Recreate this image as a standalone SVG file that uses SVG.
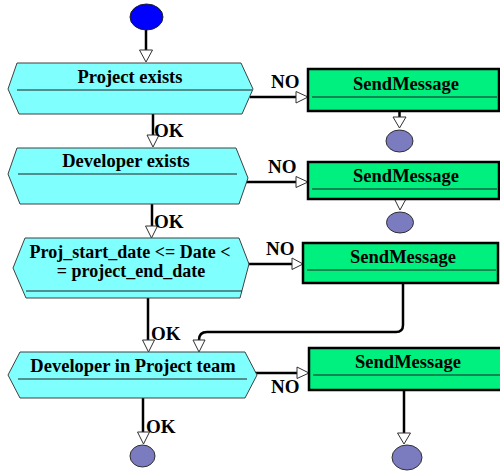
<svg xmlns="http://www.w3.org/2000/svg" width="500" height="472" viewBox="0 0 500 472">
  <defs>
    <style>
      .hex { fill: #80FFFF; stroke: #404040; stroke-width: 1; }
      .box { fill: #00F080; stroke: #000000; stroke-width: 2.5; }
      .sep { stroke: #202020; stroke-width: 1; fill: none; }
      .start { fill: #0000FF; stroke: #202020; stroke-width: 1; }
      .end { fill: #7B7BC0; stroke: #303030; stroke-width: 1; }
      .wire { stroke: #000000; stroke-width: 2.5; fill: none; }
      .head { fill: #FFFFFF; stroke: #303030; stroke-width: 1; }
      text { font-family: 'Liberation Serif', 'DejaVu Serif', serif; font-weight: bold; fill: #000000; }
      .title { font-size: 18.5px; text-anchor: middle; }
      .lbl { font-size: 19px; }
    </style>
  </defs>
  <rect width="500" height="472" fill="#FFFFFF"/>

  <!-- connectors -->
  <g id="connectors">
    <!-- start to first check -->
    <line class="wire" x1="146" y1="30" x2="146" y2="50"/>
    <polygon class="head" points="139.5,50 152.5,50 146,62"/>
    <!-- OK chain on the left -->
    <line class="wire" x1="153" y1="114" x2="153" y2="135"/>
    <polygon class="head" points="147,135 159,135 153,147"/>
    <text class="lbl" x="154" y="137">OK</text>

    <line class="wire" x1="152" y1="204" x2="152" y2="226"/>
    <polygon class="head" points="145.5,226 157.5,226 151.5,238"/>
    <text class="lbl" x="154" y="228">OK</text>

    <line class="wire" x1="148" y1="298" x2="148" y2="340"/>
    <polygon class="head" points="142.5,340 154.5,340 148.5,352"/>
    <text class="lbl" x="151" y="340">OK</text>

    <line class="wire" x1="143" y1="398" x2="143" y2="432"/>
    <polygon class="head" points="137.5,432 149.5,432 143.5,444"/>
    <text class="lbl" x="146" y="433">OK</text>

    <!-- NO branches to the right -->
    <line class="wire" x1="250" y1="97" x2="296" y2="97"/>
    <polygon class="head" points="296,91.5 296,103 308,97"/>
    <text class="lbl" x="271" y="88">NO</text>

    <line class="wire" x1="246" y1="182" x2="296" y2="182"/>
    <polygon class="head" points="296,176.5 296,187.5 308,182"/>
    <text class="lbl" x="268" y="173">NO</text>

    <line class="wire" x1="247" y1="264" x2="292" y2="264"/>
    <polygon class="head" points="292,258 292,269.5 303,264"/>
    <text class="lbl" x="266" y="255">NO</text>

    <line class="wire" x1="254" y1="373" x2="297" y2="373"/>
    <polygon class="head" points="297,367 297,378.5 309,373"/>
    <text class="lbl" x="271" y="393">NO</text>

    <!-- message outputs -->
    <line class="wire" x1="399.5" y1="111" x2="399.5" y2="117"/>
    <polygon class="head" points="393,117 406,117 399.5,128"/>

    <polygon class="head" points="394.5,199 406,199 400,210"/>

    <path class="wire" d="M403,283 V325 Q403,332 396,332 H207 Q199,332 199,340"/>
    <polygon class="head" points="193,340 205,340 199,352"/>

    <line class="wire" x1="404" y1="390" x2="404" y2="433"/>
    <polygon class="head" points="397.5,433 410.5,433 404,444"/>
  </g>

  <!-- start -->
  <g id="start">
    <ellipse class="start" cx="146.5" cy="17" rx="16.5" ry="13"/>
  </g>

  <!-- decision nodes -->
  <g id="project-exists">
    <polygon class="hex" points="17,63 241,63 253,89 242,114 19,114 8,89"/>
    <line class="sep" x1="17" y1="90" x2="252" y2="90"/>
    <text class="title" x="130" y="83">Project exists</text>
  </g>

  <g id="developer-exists">
    <polygon class="hex" points="17,148 236,148 248,178 239,204 20,204 8,174"/>
    <line class="sep" x1="18" y1="174" x2="237" y2="174"/>
    <text class="title" x="126" y="167">Developer exists</text>
  </g>

  <g id="date-range">
    <polygon class="hex" points="25,238 239,238 249,264 240,298 26,298 13,268"/>
    <line class="sep" x1="26" y1="291" x2="242" y2="291"/>
    <text class="title" x="130" y="258" style="font-size:18px">Proj_start_date &lt;= Date &lt;</text>
    <text class="title" x="131" y="277" style="font-size:18px">= project_end_date</text>
  </g>

  <g id="developer-in-team">
    <polygon class="hex" points="20,352 245,352 257,375 245,398 20,398 8,375"/>
    <line class="sep" x1="18" y1="379" x2="247" y2="379"/>
    <text class="title" x="133" y="372">Developer in Project team</text>
  </g>

  <!-- message actions -->
  <g id="send-message-1">
    <rect class="box" x="308" y="69" width="191" height="42"/>
    <line class="sep" x1="312" y1="97" x2="497" y2="97"/>
    <text class="title" x="406" y="90">SendMessage</text>
  </g>

  <g id="send-message-2">
    <rect class="box" x="308" y="162" width="191" height="37"/>
    <line class="sep" x1="312" y1="189" x2="497" y2="189"/>
    <text class="title" x="406" y="182">SendMessage</text>
  </g>

  <g id="send-message-3">
    <rect class="box" x="303" y="243" width="195" height="40"/>
    <line class="sep" x1="307" y1="270" x2="496" y2="270"/>
    <text class="title" x="403" y="263">SendMessage</text>
  </g>

  <g id="send-message-4">
    <rect class="box" x="309" y="348" width="200" height="42"/>
    <line class="sep" x1="313" y1="375" x2="500" y2="375"/>
    <text class="title" x="408" y="368">SendMessage</text>
  </g>

  <!-- end points -->
  <g id="end-1">
    <ellipse class="end" cx="399.5" cy="141" rx="13.5" ry="11"/>
  </g>
  <g id="end-2">
    <ellipse class="end" cx="400" cy="222.5" rx="13.5" ry="10.5"/>
  </g>
  <g id="end-3">
    <ellipse class="end" cx="142.5" cy="456" rx="12.5" ry="11"/>
  </g>
  <g id="end-4">
    <ellipse class="end" cx="407" cy="457.5" rx="15" ry="12.5"/>
  </g>
</svg>
